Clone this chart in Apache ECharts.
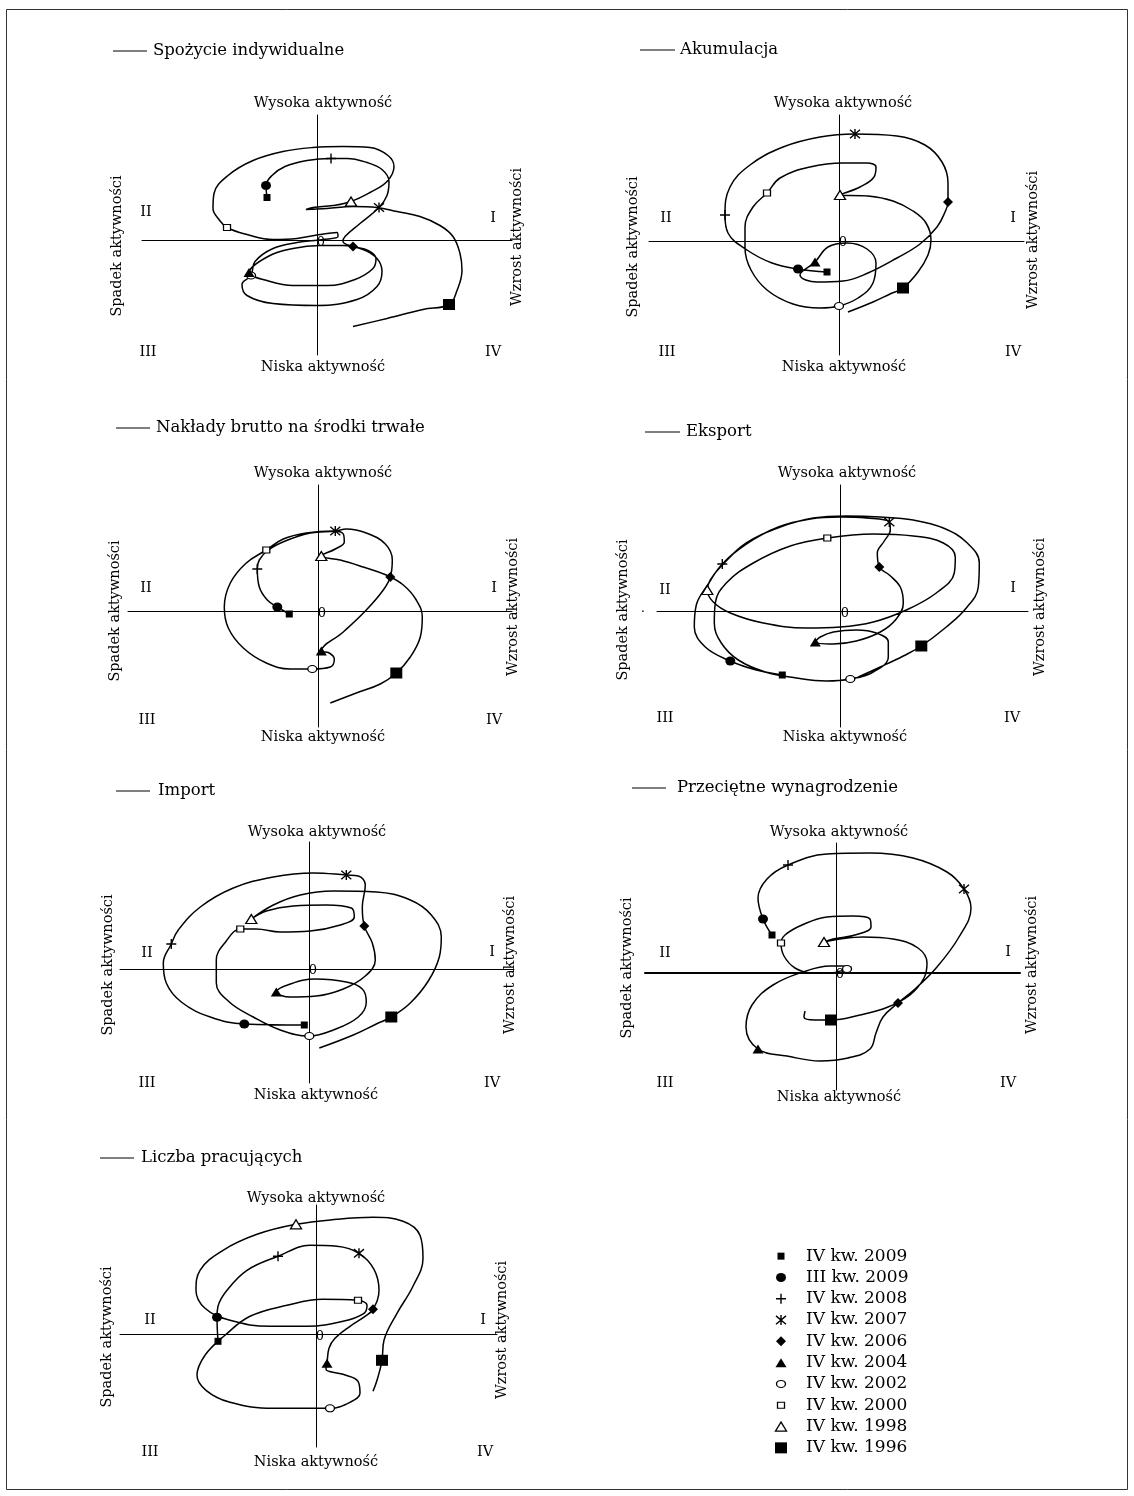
<!DOCTYPE html>
<html>
<head>
<meta charset="utf-8">
<script src="https://cdn.jsdelivr.net/npm/echarts@6/dist/echarts.min.js"></script>
<style>
html,body{margin:0;padding:0;background:#fff}
#chart{width:1134px;height:1496px}
</style>
</head>
<body>
<div id="chart"></div>
<script>
// Quarters marked on every trajectory, in time order
const periods = ['IV kw. 1996','IV kw. 1998','IV kw. 2000','IV kw. 2002','IV kw. 2004',
                 'IV kw. 2006','IV kw. 2007','IV kw. 2008','III kw. 2009','IV kw. 2009'];
// Legend rows, top to bottom
const legendLabels = ['IV kw. 2009','III kw. 2009','IV kw. 2008','IV kw. 2007','IV kw. 2006',
                      'IV kw. 2004','IV kw. 2002','IV kw. 2000','IV kw. 1998','IV kw. 1996'];
const panelTitles = ['Spożycie indywidualne','Akumulacja','Nakłady brutto na środki trwałe',
                     'Eksport','Import','Przeciętne wynagrodzenie','Liczba pracujących'];

// Trajectories [growth, activity level]. The first list is the lead-in before IV kw. 1996,
// every following list starts at the quarter of the same position in `periods`.
const spozycie = [
  [[3.6,-8.6],[7.0,-7.8],[10.6,-6.9]],
  [[13.2,-6.4],[14.0,-5.0],[14.5,-3.0],[14.3,-1.3],[13.6,0.4],[12.3,1.5],[10.3,2.4],[8.0,2.9],[6.0,3.3],[3.6,3.4],[1.0,3.2],[-1.1,3.1],[-0.4,3.3],[1.6,3.5]],
  [[3.4,3.9],[5.3,4.8],[7.0,5.9],[7.7,7.4],[7.1,8.5],[5.3,9.3],[2.6,9.4],[-0.4,9.3],[-3.4,8.9],[-6.4,8.0],[-8.9,6.5],[-10.3,4.7],[-10.4,3.2],[-9.8,2.1]],
  [[-9.0,1.3],[-7.0,0.6],[-4.4,0.1],[-2.0,0.2],[0.3,0.6],[2.0,0.8],[2.1,0.4],[0.6,0.1],[-2.0,-0.2],[-4.4,-0.8],[-6.2,-2.1]],
  [[-6.6,-3.5],[-7.5,-4.4],[-7.0,-5.5],[-4.4,-6.3],[0.0,-6.5],[4.0,-5.9],[6.0,-4.6],[6.5,-3.1],[6.0,-1.8],[4.6,-0.9],[2.6,-0.5],[0.3,-0.5],[-2.4,-0.8],[-4.9,-1.6]],
  [[-6.8,-3.2],[-5.0,-4.0],[-2.4,-4.5],[1.0,-4.5],[3.8,-3.9],[5.6,-2.8],[5.9,-1.8],[5.1,-1.0]],
  [[3.6,-0.6],[2.6,-0.1],[2.8,0.4],[4.3,1.7]],
  [[6.2,3.3],[7.0,4.5],[7.2,5.9],[6.5,7.1],[5.0,7.8],[3.0,8.2]],
  [[1.4,8.2],[-1.0,8.0],[-3.2,7.4],[-4.5,6.5]],
  [[-5.1,5.5]],
  [[-5.0,4.3]]
];
const akumulacja = [
  [[0.9,-7.1],[3.4,-6.1],[5.1,-5.3]],
  [[6.4,-4.7],[7.9,-3.1],[8.9,-1.4],[9.2,0.1],[8.7,1.8],[7.4,3.0],[5.4,4.0],[2.9,4.5]],
  [[0.1,4.6],[2.1,5.4],[3.5,6.4],[3.7,7.4],[2.8,7.8],[0.4,7.8],[-2.9,7.4],[-5.9,6.3]],
  [[-7.2,4.8],[-8.6,3.4],[-9.4,1.4],[-9.4,-0.7],[-8.8,-2.9],[-7.2,-4.9],[-4.6,-6.3],[-1.9,-6.7]],
  [[0.0,-6.5],[1.9,-5.7],[3.4,-4.2],[3.7,-2.2],[2.8,-0.8],[0.8,-0.2],[-1.1,-0.6]],
  [[-2.4,-2.1],[-3.9,-3.4],[-2.2,-4.1],[0.4,-4.0],[2.9,-3.2],[5.8,-1.7],[8.1,-0.3],[9.8,1.4],[10.6,2.9]],
  [[10.9,3.9],[10.9,5.8],[10.3,7.9],[8.6,9.6],[5.8,10.5]],
  [[1.6,10.7],[-1.9,10.4],[-5.6,9.4],[-8.9,7.6],[-10.9,5.4]],
  [[-11.4,2.6],[-11.1,0.8],[-9.2,-0.9],[-6.7,-2.2]],
  [[-4.1,-2.8]],
  [[-1.2,-3.1]]
];
const naklady = [
  [[1.2,-9.2],[3.8,-8.2],[6.2,-7.3]],
  [[7.8,-6.2],[9.2,-4.6],[10.2,-2.6],[10.4,-0.6],[9.8,1.1],[8.5,2.6],[6.8,3.6],[4.5,4.4],[2.2,5.1]],
  [[0.3,5.5],[1.7,6.2],[2.6,6.9],[2.5,7.7],[1.5,8.0],[-1.2,7.8],[-3.5,7.2]],
  [[-5.2,6.1],[-7.2,4.8],[-8.8,2.8],[-9.4,0.4],[-9.0,-1.7],[-7.5,-3.7],[-5.2,-5.2],[-2.8,-5.8]],
  [[-0.6,-5.8],[1.2,-5.6],[1.6,-4.8],[1.1,-4.2]],
  [[0.3,-4.0],[2.5,-2.1],[4.8,0.1],[6.5,2.1]],
  [[7.2,3.4],[7.4,5.1],[6.7,6.7],[4.8,7.8],[2.8,8.2]],
  [[1.7,8.0],[-0.8,7.8],[-3.3,7.0],[-5.0,6.1],[-5.9,5.1]],
  [[-6.1,4.2],[-5.9,2.4],[-5.1,1.1]],
  [[-4.1,0.4]],
  [[-2.9,-0.3]]
];
const eksport = [
  [[1.8,-6.6],[4.0,-5.6],[6.3,-4.5]],
  [[8.1,-3.5],[10.6,-1.6],[12.6,0.3],[13.8,2.4],[13.9,4.8],[12.7,6.8],[10.3,8.3],[7.3,9.1],[4.0,9.4],[0.6,9.5],[-2.7,9.3],[-6.0,8.4],[-9.4,6.8],[-11.9,4.5],[-13.0,3.1]],
  [[-13.3,2.1],[-12.7,0.9],[-11.0,-0.2],[-7.7,-1.2],[-3.4,-1.7],[0.0,-1.6],[3.3,-1.1],[6.6,0.1],[9.6,1.8],[11.4,3.8],[11.5,5.4],[10.3,6.8],[7.3,7.5],[3.3,7.7]],
  [[-1.3,7.3],[-5.0,6.5],[-8.7,4.8],[-11.4,2.8],[-12.5,0.8],[-12.6,-1.2],[-11.9,-3.2],[-10.2,-4.9],[-7.5,-6.1],[-4.4,-6.7],[-1.4,-7.0]],
  [[1.0,-6.8],[3.3,-6.1],[4.8,-4.6],[4.8,-3.1],[3.6,-2.2],[1.6,-1.9],[-0.7,-2.1],[-2.0,-2.6]],
  [[-2.5,-3.1],[-0.7,-3.3],[1.6,-3.0],[4.0,-2.1],[5.6,-0.8],[6.3,0.8],[6.0,2.4],[4.9,3.6]],
  [[3.9,4.4],[3.7,5.8],[4.4,7.0],[5.0,8.1]],
  [[4.9,8.9],[2.6,9.3],[0.0,9.4],[-3.0,9.2],[-6.2,8.4],[-9.4,6.7]],
  [[-11.8,4.7],[-13.2,2.7],[-14.4,0.6],[-14.6,-1.6],[-13.5,-3.6]],
  [[-11.0,-5.0],[-8.4,-5.9]],
  [[-5.8,-6.4]]
];
const importy = [
  [[1.0,-7.9],[4.4,-6.6],[6.7,-5.5]],
  [[8.2,-4.8],[10.1,-3.4],[11.9,-1.2],[13.0,1.2],[13.2,3.2],[12.2,5.4],[10.1,6.9],[6.7,7.7],[2.4,7.8],[-0.9,7.4],[-3.6,6.4]],
  [[-5.8,5.0],[-4.3,5.8],[-1.6,6.3],[1.7,6.4],[4.2,6.1],[4.5,5.2],[3.1,4.4],[0.1,3.8],[-2.9,3.7],[-5.3,4.0]],
  [[-6.9,4.0],[-8.3,2.8],[-9.3,0.9],[-9.3,-1.4],[-8.0,-3.3],[-5.6,-4.8],[-2.9,-6.1]],
  [[0.0,-6.7],[2.4,-6.1],[4.9,-4.8],[5.7,-3.3],[5.3,-2.0],[3.7,-1.3],[0.6,-1.0],[-1.9,-1.5]],
  [[-3.3,-2.3],[-1.9,-2.8],[0.7,-2.7],[3.4,-2.0],[5.6,-0.7],[6.6,0.9],[6.3,2.6]],
  [[5.5,4.3],[5.3,6.2],[5.6,8.4],[4.9,9.3]],
  [[3.7,9.4],[0.4,9.6],[-3.6,9.2],[-7.6,8.1],[-10.9,6.2],[-13.1,3.9]],
  [[-13.8,2.5],[-14.6,0.6],[-14.3,-1.4],[-12.8,-3.3],[-9.9,-4.8]],
  [[-6.5,-5.5]],
  [[-0.5,-5.6]]
];
const wynagrodzenie = [
  [[-3.1,-3.8],[-3.2,-4.4],[-2.1,-4.7]],
  [[-0.5,-4.7],[2.4,-4.2],[5.2,-3.4],[7.4,-2.2],[8.8,-0.5],[9.1,1.0],[8.2,2.5],[5.7,3.4],[2.7,3.6],[0.4,3.4]],
  [[-1.2,3.1],[-0.3,3.4],[1.9,3.8],[3.5,4.6],[3.4,5.4],[1.7,5.7],[-0.9,5.6],[-3.4,4.8],[-5.1,3.8]],
  [[-5.5,3.0],[-5.2,1.7],[-4.1,0.5],[-2.4,0.0],[-0.6,0.0]],
  [[1.1,0.4],[1.5,0.6],[0.7,0.7],[-0.6,0.7],[-3.3,0.1],[-6.3,-1.2],[-8.4,-3.2],[-9.0,-5.4]],
  [[-7.8,-7.6],[-4.9,-8.3],[-1.6,-8.8],[1.2,-8.5],[3.4,-7.6],[4.0,-6.0],[4.7,-4.4]],
  [[6.2,-3.0],[7.9,-1.6],[10.1,0.6],[12.3,3.6],[13.5,6.5]],
  [[12.8,8.4],[11.1,10.1],[7.7,11.5],[3.4,12.0],[-0.9,11.9]],
  [[-4.8,10.8],[-6.9,9.4],[-7.8,7.5]],
  [[-7.3,5.4]],
  [[-6.4,3.8]]
];
const pracujacy = [
  [[5.7,-5.7],[6.1,-4.6]],
  [[6.6,-2.6],[6.8,-0.6],[8.1,2.1],[9.7,4.8],[10.7,7.6],[10.4,9.9],[8.7,11.3],[5.7,11.7],[2.1,11.5]],
  [[-2.0,11.0],[-5.9,10.0],[-9.3,8.4],[-11.6,6.4],[-12.0,4.4],[-11.1,2.6],[-8.6,1.4],[-4.6,0.8],[-0.9,0.8],[2.7,1.3],[4.8,2.1],[5.1,2.9]],
  [[4.2,3.4],[0.7,3.5],[-2.9,2.9],[-6.6,1.8],[-9.1,-0.1],[-11.1,-2.1],[-11.9,-4.1],[-11.0,-5.6],[-8.6,-6.8],[-4.3,-7.4]],
  [[1.4,-7.4],[3.4,-6.8],[4.4,-5.9],[4.2,-4.7],[2.7,-4.0],[1.0,-3.5]],
  [[1.1,-2.9],[1.3,-1.4],[1.9,-0.4],[3.4,0.8],[4.9,1.8]],
  [[5.7,2.5],[6.3,4.4],[5.8,6.5]],
  [[4.3,8.1],[2.1,8.8],[-0.6,8.9]],
  [[-3.8,7.8],[-6.9,6.4],[-8.9,4.4],[-9.8,2.8]],
  [[-9.9,1.7]],
  [[-9.8,-0.7]]
];
const trajectories = [spozycie, akumulacja, naklady, eksport, importy, wynagrodzenie, pracujacy];

const FONT = '"DejaVu Serif", "Liberation Serif", serif';
const INK = '#000';
const PX = 10; // pixels per unit on both axes

// Panel frames (pixels): axis extents, origin, heading and caption anchors
const panels = [
  {L:142,R:512,T:115,B:355,ox:317,oy:240.5, ty:51, lx:[113,147], tx:153,
   hi:[323,103], lo:[323,367], dn:[117,246], up:[517,237], q1:[493,218], q2:[146,212], q3:[148,352], q4:[493,352], zero:[321,243]},
  {L:649,R:1024,T:115,B:355,ox:839,oy:241, ty:50, lx:[640,675], tx:680,
   hi:[843,103], lo:[844,367], dn:[633,247], up:[1033,240], q1:[1013,218], q2:[666,218], q3:[667,352], q4:[1013,352], zero:[843,243]},
  {L:128,R:512,T:485,B:727,ox:318.3,oy:611, ty:428, lx:[116,150], tx:156,
   hi:[323,473], lo:[323,737], dn:[115,611], up:[513,607], q1:[494,588], q2:[146,588], q3:[147,720], q4:[494,720], zero:[322,614]},
  {L:657,R:1028,T:485,B:727,ox:840.3,oy:611, ty:432, lx:[645,680], tx:686,
   hi:[847,473], lo:[845,737], dn:[623,610], up:[1040,607], q1:[1013,588], q2:[665,590], q3:[665,718], q4:[1012,718], zero:[845,614], dot:[643,609]},
  {L:120,R:514,T:842,B:1083,ox:309.3,oy:969, ty:791, lx:[116,150], tx:158,
   hi:[317,832], lo:[316,1095], dn:[108,965], up:[510,965], q1:[492,952], q2:[147,953], q3:[147,1083], q4:[492,1083], zero:[313,971]},
  {L:645,R:1020,T:843,B:1090,ox:836,oy:973, ty:788, lx:[632,666], tx:677,
   hi:[839,832], lo:[839,1097], dn:[627,968], up:[1032,965], q1:[1008,952], q2:[665,953], q3:[665,1083], q4:[1008,1083], zero:[840,975], xw:2},
  {L:120,R:497,T:1205,B:1447,ox:316,oy:1334.3, ty:1158, lx:[100,134], tx:141,
   hi:[316,1198], lo:[316,1462], dn:[107,1337], up:[502,1330], q1:[483,1320], q2:[150,1320], q3:[150,1452], q4:[485,1452], zero:[320,1337]}
];

// Marker look for each quarter
const ASTER = 'path://M0,0L10,10M10,0L0,10M5,-1L5,11';
const PLUS = 'path://M0,5L10,5M5,0L5,10';
const CLEAR = 'rgba(0,0,0,0)';
const markerStyle = {
  'IV kw. 2009':  {symbol:'rect', size:[7,7], fill:'#000', bw:0},
  'III kw. 2009': {symbol:'circle', size:[10,9], fill:'#000', bw:0},
  'IV kw. 2008':  {symbol:PLUS, size:[10,10], fill:CLEAR, bw:1.4},
  'IV kw. 2007':  {symbol:ASTER, size:[10,10], fill:CLEAR, bw:1.4},
  'IV kw. 2006':  {symbol:'diamond', size:[10,10], fill:'#000', bw:0},
  'IV kw. 2004':  {symbol:'triangle', size:[11,9], fill:'#000', bw:0},
  'IV kw. 2002':  {symbol:'circle', size:[9,7], fill:'#fff', bw:1.2},
  'IV kw. 2000':  {symbol:'rect', size:[7,6], fill:'#fff', bw:1.2},
  'IV kw. 1998':  {symbol:'triangle', size:[11,9], fill:'#fff', bw:1.3},
  'IV kw. 1996':  {symbol:'rect', size:[12,11], fill:'#000', bw:0}
};
function markerItem(name, value) {
  const s = markerStyle[name];
  return {name, value, symbol:s.symbol, symbolSize:s.size,
          itemStyle:{color:s.fill, borderColor:'#000', borderWidth:s.bw, opacity:1}};
}

function txt(text, x, y, size, align, rot) {
  return {type:'text', x, y, rotation: rot || 0, silent:true, z:5,
    style:{text, font: size + 'px ' + FONT, fill: INK,
           textAlign: align || 'center', textVerticalAlign:'middle',
           align: align || 'center', verticalAlign:'middle'}};
}

const grids = [], xAxes = [], yAxes = [], series = [], graphics = [];
const hidden = {axisTick:{show:false}, axisLabel:{show:false}, splitLine:{show:false}};

// outer frame
graphics.push({type:'rect', silent:true, shape:{x:6.5, y:9.5, width:1121, height:1480},
               style:{fill:'none', stroke:'#333', lineWidth:1}});

panels.forEach((p, i) => {
  grids.push({left:p.L, top:p.T, width:p.R - p.L, height:p.B - p.T});
  xAxes.push(Object.assign({gridIndex:i, type:'value', min:(p.L - p.ox) / PX, max:(p.R - p.ox) / PX,
    axisLine:{onZero:true, lineStyle:{color:'#000', width:p.xw || 1}}}, hidden));
  yAxes.push(Object.assign({gridIndex:i, type:'value', min:(p.oy - p.B) / PX, max:(p.oy - p.T) / PX,
    axisLine:{onZero:true, lineStyle:{color:'#000', width:1}}}, hidden));

  const segs = trajectories[i];
  const path = [].concat(...segs);
  series.push({type:'line', xAxisIndex:i, yAxisIndex:i, data:path, smooth:0.4,
    symbol:'none', silent:true, z:2, lineStyle:{color:'#000', width:1.5}});
  series.push({type:'scatter', xAxisIndex:i, yAxisIndex:i, silent:true, z:3,
    data: periods.map((name, k) => markerItem(name, segs[k + 1][0]))});

  graphics.push({type:'line', silent:true, shape:{x1:p.lx[0], y1:p.ty, x2:p.lx[1], y2:p.ty},
                 style:{stroke:'#000', lineWidth:1.2}});
  graphics.push(txt(panelTitles[i], p.tx, p.ty, 16.5, 'left'));
  graphics.push(txt('Wysoka aktywność', p.hi[0], p.hi[1], 14.5));
  graphics.push(txt('Niska aktywność', p.lo[0], p.lo[1], 14.5));
  graphics.push(txt('Spadek aktywności', p.dn[0], p.dn[1], 14.5, 'center', Math.PI / 2));
  graphics.push(txt('Wzrost aktywności', p.up[0], p.up[1], 14.5, 'center', Math.PI / 2));
  graphics.push(txt('I', p.q1[0], p.q1[1], 14.5));
  graphics.push(txt('II', p.q2[0], p.q2[1], 14.5));
  graphics.push(txt('III', p.q3[0], p.q3[1], 14.5));
  graphics.push(txt('IV', p.q4[0], p.q4[1], 14.5));
  graphics.push(txt('0', p.zero[0], p.zero[1], 13));
  if (p.dot) graphics.push(txt('.', p.dot[0], p.dot[1], 12));
});

// key of marker shapes
const li = panels.length;
grids.push({left:773, top:1245.5, width:16, height:213});
xAxes.push({gridIndex:li, type:'value', min:-1, max:1, show:false});
yAxes.push({gridIndex:li, type:'category', data:legendLabels, inverse:true, position:'right',
  axisLine:{show:false}, axisTick:{show:false}, splitLine:{show:false},
  axisLabel:{show:true, interval:0, margin:17, align:'left', color:INK, fontFamily:FONT, fontSize:17}});
series.push({type:'scatter', xAxisIndex:li, yAxisIndex:li, silent:true, z:3,
  data: legendLabels.map((name, k) => markerItem(name, [0, k]))});

const chart = echarts.init(document.getElementById('chart'), null, {renderer:'canvas'});
chart.setOption({
  backgroundColor:'#fff',
  animation:false,
  grid:grids, xAxis:xAxes, yAxis:yAxes, series, graphic:graphics
});
</script>
</body>
</html>
